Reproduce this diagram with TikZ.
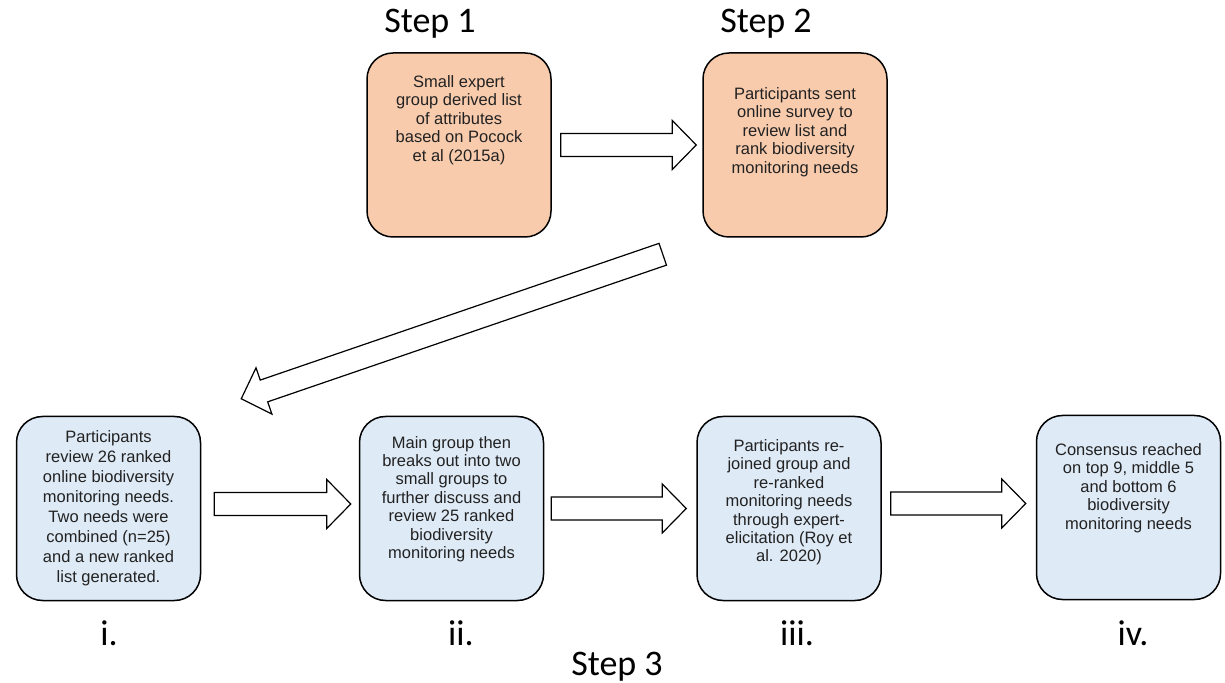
\documentclass[tikz,border=0pt]{standalone}
\usepackage{fontspec}
\usepackage{tikz}
\usetikzlibrary{calc}
\newfontfamily\boxfont{Liberation Sans}
\newfontfamily\stepfont{Carlito}
\definecolor{stepone}{RGB}{248,203,173}
\definecolor{stepthree}{RGB}{222,234,246}
\definecolor{boxtextcol}{RGB}{34,34,34}
\tikzset{
    box/.style={draw=black, line width=0.75pt, rounded corners=13pt,
        minimum width=92pt, minimum height=92pt, inner sep=0pt},
    orangebox/.style={box, fill=stepone},
    bluebox/.style={box, fill=stepthree},
    boxtext/.style={align=center, inner sep=0pt, text=boxtextcol,
        font=\boxfont\fontsize{8.25pt}{9.2pt}\selectfont},
    steplabel/.style={anchor=base, inner sep=0pt,
        font=\stepfont\fontsize{18pt}{21pt}\selectfont},
    blockarrow/.style={draw=black, fill=white, line width=0.6pt, line join=miter,
        to path={
            let \p1=(\tikztostart), \p2=(\tikztotarget),
                \n1={atan2(\y2-\y1,\x2-\x1)}, \n2={veclen(\x2-\x1,\y2-\y1)} in
            {[shift={(\p1)}, rotate=\n1, x=1pt, y=1pt]
                (0,-5.75) -- ({\n2-12},-5.75) -- ({\n2-12},-12.25) -- (\n2,0)
                -- ({\n2-12},12.25) -- ({\n2-12},5.75) -- (0,5.75) -- cycle}
        }},
}

\begin{document}
\begin{tikzpicture}[x=0.5pt, y=-0.5pt]
    \useasboundingbox (0,0) rectangle (1225,683);
    % Step 1 and Step 2 boxes
    \node[orangebox] (s1) at (459,145) {};
    \node[orangebox] (s2) at (795,145) {};
    \node[boxtext] (s1txt) at ([yshift=12.5pt]s1.center)
        {Small expert\\group derived list\\of attributes\\based on Pocock\\et al (2015a)};
    \node[boxtext] (s2txt) at ([yshift=6.5pt]s2.center)
        {Participants sent\\online survey to\\review list and\\rank biodiversity\\monitoring needs};
    % Step 3 boxes
    \node[bluebox] (i) at (108.5,508.5) {};
    \node[bluebox] (ii) at (451.5,508.5) {};
    \node[bluebox] (iii) at (789,508.5) {};
    \node[bluebox] (iv) at (1128.5,507.5) {};
    \node[boxtext, font=\boxfont\fontsize{8.25pt}{10pt}\selectfont] (itxt) at (i.center)
        {Participants\\review 26 ranked\\online biodiversity\\monitoring needs.\\Two needs were\\combined (n=25)\\and a new ranked\\list generated.};
    \node[boxtext] (iitxt) at ([yshift=4.75pt]ii.center)
        {Main group then\\breaks out into two\\small groups to\\further discuss and\\review 25 ranked\\biodiversity\\monitoring needs};
    \node[boxtext] (iiitxt) at ([yshift=3pt]iii.center)
        {Participants re-\\joined group and\\re-ranked\\monitoring needs\\through expert-\\elicitation (Roy et\\al. 2020)};
    \node[boxtext] (ivtxt) at ([yshift=9.75pt]iv.center)
        {Consensus reached\\on top 9, middle 5\\and bottom 6\\biodiversity\\monitoring needs};
    % Block arrows
    \draw[blockarrow] ([xshift=4.5pt]s1.east) to ([xshift=-3pt]s2.west);
    \draw[blockarrow] ([xshift=-19.75pt,yshift=-8.25pt]s2.south west) to ([xshift=20pt,yshift=8.5pt]i.north east);
    \draw[blockarrow] ([xshift=6.5pt,yshift=2.25pt]i.east) to ([xshift=-4pt,yshift=2.25pt]ii.west);
    \draw[blockarrow] ([xshift=3.5pt]ii.east) to ([xshift=-5pt]iii.west);
    \draw[blockarrow] ([xshift=4.5pt,yshift=2.5pt]iii.east) to ([xshift=-5pt,yshift=2pt]iv.west);
    % Labels
    \node[steplabel] (step1) at (430,33) {Step 1};
    \node[steplabel] (step2) at (766,33) {Step 2};
    \node[steplabel] (labi) at (109,645) {i.};
    \node[steplabel] (labii) at (461,645) {ii.};
    \node[steplabel] (labiii) at (797,645) {iii.};
    \node[steplabel] (labiv) at (1133,645) {iv.};
    \node[steplabel] (step3) at (617,675) {Step 3};
\end{tikzpicture}
\end{document}
